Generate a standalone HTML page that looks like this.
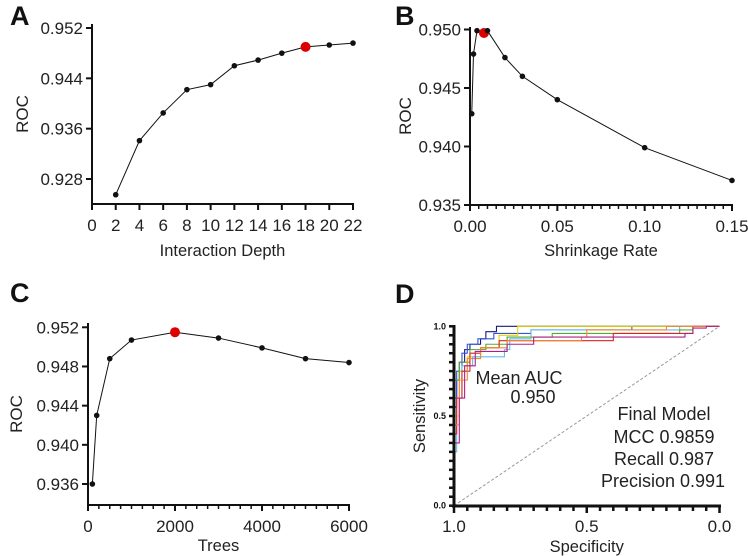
<!DOCTYPE html>
<html><head><meta charset="utf-8"><style>
body{margin:0;background:#fff}
svg{display:block;font-family:"Liberation Sans",Arial,sans-serif}
</style></head><body>
<svg id="fig" width="748" height="556" viewBox="0 0 748 556" xmlns="http://www.w3.org/2000/svg"></svg>
<script>
// Panel A data
const aX=[2,4,6,8,10,12,14,16,18,20,22];
const aY=[0.9255,0.9341,0.9385,0.9422,0.9430,0.9460,0.9469,0.9480,0.9490,0.9493,0.9496];
const aXTicks=[0,2,4,6,8,10,12,14,16,18,20,22];
const aYTicks=[0.928,0.936,0.944,0.952];
const aBest=18;
// Panel B data
const bX=[0.001,0.002,0.004,0.008,0.01,0.02,0.03,0.05,0.1,0.15];
const bY=[0.9428,0.9479,0.9499,0.9497,0.9499,0.9476,0.9460,0.9440,0.9399,0.9371];
const bXTicks=[0,0.05,0.10,0.15];
const bYTicks=[0.935,0.940,0.945,0.950];
const bBest=0.008;
// Panel C data
const cX=[100,200,500,1000,2000,3000,4000,5000,6000];
const cY=[0.9360,0.9430,0.9488,0.9507,0.9515,0.9509,0.9499,0.9488,0.9484];
const cXTicks=[0,2000,4000,6000];
const cYTicks=[0.936,0.940,0.944,0.948,0.952];
const cBest=2000;
// Panel D data (fpr, tpr step points per fold)
const dColors=["#1a1a7a","#3355dd","#e8d400","#66bbee","#55aa33","#dd2222","#ee8833","#aa2288"];
const dFolds=[
 [[0,0],[0,0.55],[0.01,0.7],[0.02,0.8],[0.04,0.87],[0.06,0.9],[0.1,0.93],[0.12,0.97],[0.16,1],[1,1]],
 [[0,0],[0,0.6],[0.01,0.75],[0.03,0.85],[0.05,0.9],[0.09,0.93],[0.15,0.96],[0.29,0.98],[0.67,1],[1,1]],
 [[0,0],[0,0.5],[0.02,0.75],[0.05,0.83],[0.1,0.88],[0.17,0.95],[0.24,1],[1,1]],
 [[0,0],[0,0.3],[0.01,0.6],[0.03,0.78],[0.07,0.83],[0.19,0.87],[0.21,0.93],[0.29,0.98],[0.67,0.98],[0.85,1],[1,1]],
 [[0,0],[0,0.7],[0.02,0.8],[0.06,0.87],[0.12,0.9],[0.2,0.94],[0.37,0.96],[0.85,0.98],[0.9,1],[1,1]],
 [[0,0],[0,0.4],[0.01,0.6],[0.03,0.75],[0.06,0.85],[0.1,0.88],[0.17,0.92],[0.6,0.96],[0.9,1],[1,1]],
 [[0,0],[0,0.45],[0.02,0.7],[0.05,0.82],[0.1,0.88],[0.2,0.92],[0.48,0.94],[0.5,0.98],[0.8,1],[1,1]],
 [[0,0],[0,0.35],[0.02,0.6],[0.04,0.78],[0.08,0.86],[0.2,0.9],[0.3,0.94],[0.87,0.96],[0.9,0.99],[0.95,1],[1,1]]
];
const dTicks=[0,0.5,1];

const NS="http://www.w3.org/2000/svg";
const svg=document.getElementById('fig');
function el(tag,attrs,parent){const e=document.createElementNS(NS,tag);for(const k in attrs)e.setAttribute(k,attrs[k]);(parent||svg).appendChild(e);return e;}
function txt(s,attrs,parent){const e=el('text',attrs,parent);e.textContent=s;return e;}
function lin(d0,d1,r0,r1){return v=>r0+(v-d0)/(d1-d0)*(r1-r0);}

function linePanel(cfg){
 const g=el('g',{});
 
 
 const sx=lin(cfg.xd[0],cfg.xd[1],cfg.xr[0],cfg.xr[1]);
 const sy=lin(cfg.yd[0],cfg.yd[1],cfg.yr[0],cfg.yr[1]);
 const ax=cfg.xr[0], ay=cfg.axisY;
 const yAxis=el('line',{x1:ax,y1:cfg.yTop,x2:ax,y2:ay,stroke:'#111','stroke-width':2},g);
 
 const xAxis=el('line',{x1:ax-1,y1:ay,x2:cfg.xr[1]+1,y2:ay,stroke:'#111','stroke-width':2},g);
 
 cfg.yTicks.forEach(v=>{
  const y=sy(v);
  el('line',{x1:ax-6,y1:y,x2:ax,y2:y,stroke:'#111','stroke-width':2},g);
  const t=txt(v.toFixed(3),{x:ax-9,y:y+6,'text-anchor':'end','font-size':17,fill:'#222'},g);
  
 });
 if(cfg.minor){for(let v=cfg.xd[0];v<=cfg.xd[1]+1e-9;v+=cfg.minor){const x=sx(v);el('line',{x1:x,y1:ay,x2:x,y2:ay+4,stroke:'#111','stroke-width':1.5},g);}}
 cfg.xTicks.forEach(v=>{
  const x=sx(v);
  el('line',{x1:x,y1:ay,x2:x,y2:ay+6,stroke:'#111','stroke-width':2},g);
  const t=txt(cfg.fmt(v),{x:x,y:ay+27,'text-anchor':'middle','font-size':17,fill:'#222'},g);
  
 });
 const pts=cfg.x.map((v,i)=>sx(v)+','+sy(cfg.y[i])).join(' ');
 const pl=el('polyline',{points:pts,fill:'none',stroke:'#111','stroke-width':1},g);
 
 cfg.x.forEach((v,i)=>{
  const best=Math.abs(v-cfg.best)<1e-9;
  const c=el('circle',{cx:sx(v),cy:sy(cfg.y[i]),r:best?5:2.8,fill:best?'#dd0000':'#111'},g);
  
 });
 const xt=txt(cfg.xtitle,{x:(cfg.xr[0]+cfg.xr[1])/2,y:cfg.xtitleY,'text-anchor':'middle','font-size':16.5,fill:'#222'},g);
 
 const yc=(cfg.yTop+ay)/2;
 const yt=txt('ROC',{x:cfg.ytitleX,y:yc,'text-anchor':'middle','font-size':17,fill:'#222',transform:`rotate(-90 ${cfg.ytitleX} ${yc})`},g);
 
 const L=txt(cfg.letter,{x:cfg.lx,y:cfg.ly,'font-size':27,'font-weight':'bold',fill:'#111'},g);
 
}

linePanel({name:'panel-a',xd:[0,22],xr:[92,353],yd:[0.952,0.928],yr:[28,179],yTop:24,axisY:204,
 x:aX,y:aY,best:aBest,xTicks:aXTicks,yTicks:aYTicks,fmt:v=>String(v),xtitle:'Interaction Depth',xtitleY:256,ytitleX:28,letter:'A',lx:10,ly:25});
linePanel({name:'panel-b',xd:[0,0.15],xr:[470,732],yd:[0.950,0.935],yr:[29.5,205],yTop:27,axisY:205,minor:0.005,
 x:bX,y:bY,best:bBest,xTicks:bXTicks,yTicks:bYTicks,fmt:v=>v.toFixed(2),xtitle:'Shrinkage Rate',xtitleY:256,ytitleX:411,letter:'B',lx:395,ly:25});
linePanel({name:'panel-c',xd:[0,6000],xr:[88,349],yd:[0.952,0.936],yr:[327.3,484],yTop:323,axisY:505,minor:250,
 x:cX,y:cY,best:cBest,xTicks:cXTicks,yTicks:cYTicks,fmt:v=>String(v),xtitle:'Trees',xtitleY:551,ytitleX:22,letter:'C',lx:10,ly:302});

// Panel D
(function(){
 const g=el('g',{});
 
 
 const sx=lin(0,1,454,719.5), sy=lin(0,1,505.7,326.3);
 el('line',{x1:sx(0),y1:sy(0),x2:sx(1),y2:sy(1),stroke:'#999','stroke-width':1,'stroke-dasharray':'3,2'},g);
 dFolds.forEach((f,k)=>{
  let d='M'+sx(f[0][0])+','+sy(f[0][1]);
  for(let i=1;i<f.length;i++){d+=' H'+sx(f[i][0])+' V'+sy(f[i][1]);}
  const p=el('path',{d:d,fill:'none',stroke:dColors[k],'stroke-width':1.1},g);
  
 });
 const ya=el('line',{x1:454,y1:325,x2:454,y2:507,stroke:'#111','stroke-width':3},g);
 
 const xa=el('line',{x1:452,y1:506,x2:721,y2:506,stroke:'#111','stroke-width':3},g);
 
 for(let i=0;i<=20;i++){const y=sy(i/20);el('line',{x1:449,y1:y,x2:454,y2:y,stroke:'#111','stroke-width':2.5},g);}
 for(let i=0;i<=20;i++){const x=sx(i/20);el('line',{x1:x,y1:506,x2:x,y2:(i%10===0)?513:511,stroke:'#111','stroke-width':2.5},g);}
 dTicks.forEach(v=>{
  const t=txt(v.toFixed(1),{x:446,y:sy(v)+3,'text-anchor':'end','font-size':9,'font-weight':'bold',fill:'#111'},g);
  
  const t2=txt((1-v).toFixed(1),{x:sx(v),y:532,'text-anchor':'middle','font-size':17,fill:'#222'},g);
  
 });
 const xt=txt('Specificity',{x:sx(0.5),y:552,'text-anchor':'middle','font-size':16.5,fill:'#222'},g);
 
 const yt=txt('Sensitivity',{x:425,y:416,'text-anchor':'middle','font-size':16.5,fill:'#222',transform:'rotate(-90 425 416)'},g);
 
 const lines=[['Mean AUC',519,384,'mean-auc-label'],['0.950',533,403,'mean-auc-value'],['Final Model',664,420,'final-model-title'],['MCC 0.9859',664,443,'mcc-value'],['Recall 0.987',664,465,'recall-value'],['Precision 0.991',663,487,'precision-value']];
 lines.forEach(l=>{const t=txt(l[0],{x:l[1],y:l[2],'text-anchor':'middle','font-size':18,fill:'#222'},g);});
 const L=txt('D',{x:395,y:303,'font-size':27,'font-weight':'bold',fill:'#111'},g);
 
})();
</script>
</body></html>
